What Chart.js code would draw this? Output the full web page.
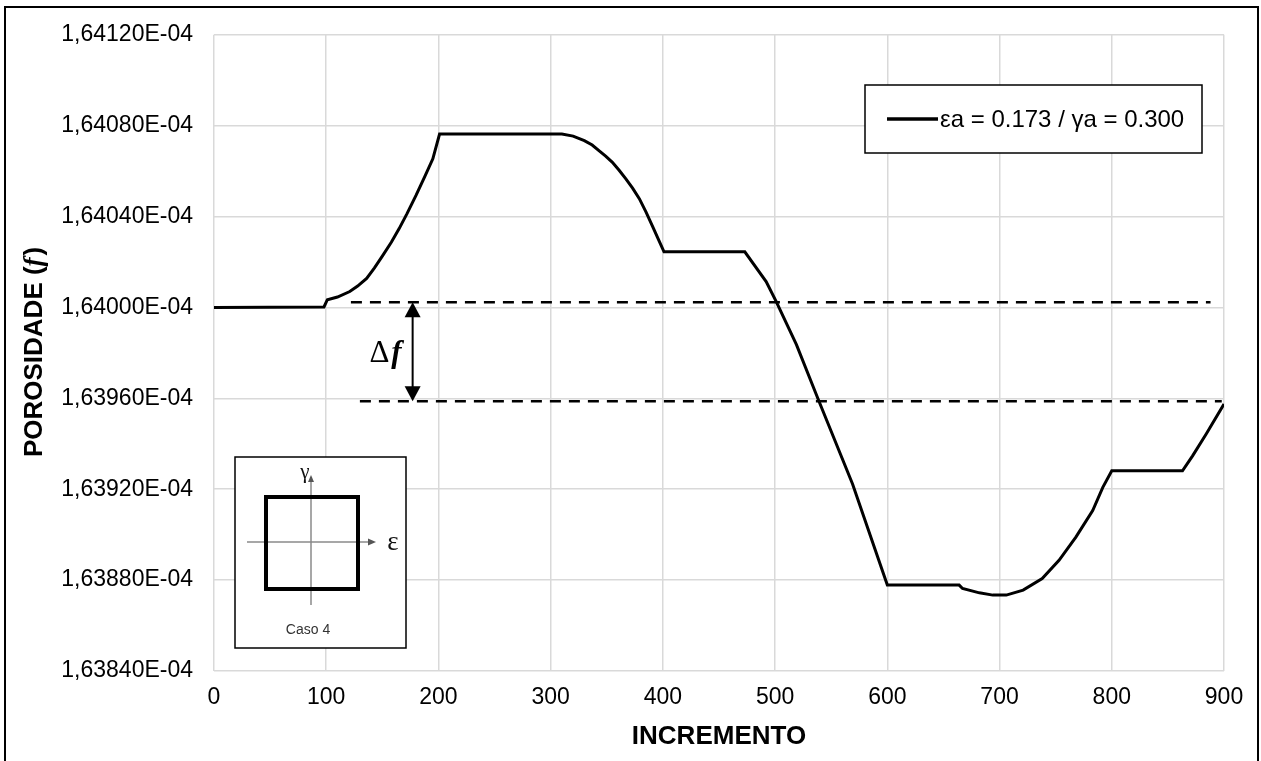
<!DOCTYPE html>
<html>
<head>
<meta charset="utf-8">
<script src="https://cdn.jsdelivr.net/npm/chart.js@4.4.1/dist/chart.umd.min.js"></script>
<style>
  html, body { margin: 0; padding: 0; background: #fff; }
  #wrap { width: 1261px; height: 761px; }
</style>
</head>
<body>
<div id="wrap"><canvas id="c" width="1261" height="761"></canvas></div>
<script>
// Porosity history along the loading increments (values in units of 1E-04)
const incremento = [0, 98, 101, 110, 121, 128, 136, 143, 150, 158, 165, 172, 180, 188, 195, 201,
  310, 320, 330, 337, 343, 349, 355, 361, 367, 373, 379, 385, 391, 396, 401,
  473, 492, 501, 519, 539, 569, 600, 664, 667, 682, 694, 706, 721, 738, 753, 768, 783, 792, 800,
  863, 872, 884, 900];
const porosidade = [1.640000, 1.640002, 1.640034, 1.640046, 1.640070, 1.640094, 1.640128, 1.640174, 1.640226, 1.640287,
  1.640347, 1.640413, 1.640493, 1.640578, 1.640654, 1.640763,
  1.640763, 1.640754, 1.640734, 1.640715, 1.640690, 1.640666, 1.640639, 1.640604, 1.640566, 1.640525,
  1.640479, 1.640420, 1.640355, 1.640300, 1.640245,
  1.640245, 1.640114, 1.640026, 1.639836, 1.639588, 1.639223, 1.638778, 1.638778, 1.638763, 1.638744, 1.638734,
  1.638734, 1.638756, 1.638807, 1.638887, 1.638989, 1.639106, 1.639208, 1.639281,
  1.639281, 1.639347, 1.639442, 1.639575];

// Axis ticks
const xTicks = [0, 100, 200, 300, 400, 500, 600, 700, 800, 900];
const yTicks = [1.63840, 1.63880, 1.63920, 1.63960, 1.64000, 1.64040, 1.64080, 1.64120];

// Reference levels bounding the porosity change (Δf)
const refSuperiorX = [122, 888];
const refSuperiorY = [1.640023, 1.640023];
const refInferiorX = [130, 898];
const refInferiorY = [1.639587, 1.639587];
const deltaSetaX = 177;

const serieLabel = 'εa = 0.173 / γa = 0.300';
const casoLabel = 'Caso 4';

const FONT = '"Liberation Sans", Arial, sans-serif';

function toPoints(xs, ys) { return xs.map((x, i) => ({ x: x, y: ys[i] })); }

function fmtY(v) { return v.toFixed(5).replace('.', ',') + 'E-04'; }

const decorations = {
  id: 'decorations',
  afterDraw(chart) {
    const ctx = chart.ctx;
    const xs = chart.scales.x, ys = chart.scales.y;
    const area = chart.chartArea;
    ctx.save();

    // outer frame
    ctx.strokeStyle = '#000';
    ctx.lineWidth = 2;
    ctx.strokeRect(5, 7, 1253, 780);

    // y axis title with italic symbol
    const parts = [
      { t: 'POROSIDADE (', f: 'bold 26px ' + FONT },
      { t: 'f', f: 'bold italic 27px "Liberation Serif", serif' },
      { t: ')', f: 'bold 26px ' + FONT }
    ];
    let total = 0;
    parts.forEach(p => { ctx.font = p.f; p.w = ctx.measureText(p.t).width; total += p.w; });
    ctx.save();
    ctx.translate(34, (area.top + area.bottom) / 2);
    ctx.rotate(-Math.PI / 2);
    ctx.fillStyle = '#000';
    ctx.textBaseline = 'middle';
    ctx.textAlign = 'left';
    let cx = -total / 2;
    parts.forEach(p => { ctx.font = p.f; ctx.fillText(p.t, cx, 1); cx += p.w + (p.t === 'f' ? 2 : 0); });
    ctx.restore();

    // legend box
    const lx = 865, ly = 85, lw = 337, lh = 68;
    ctx.fillStyle = '#fff';
    ctx.fillRect(lx, ly, lw, lh);
    ctx.strokeStyle = '#000';
    ctx.lineWidth = 1.5;
    ctx.strokeRect(lx, ly, lw, lh);
    ctx.lineWidth = 3.5;
    ctx.beginPath();
    ctx.moveTo(887, ly + lh / 2);
    ctx.lineTo(938, ly + lh / 2);
    ctx.stroke();
    ctx.fillStyle = '#000';
    ctx.font = '24px ' + FONT;
    ctx.textBaseline = 'middle';
    ctx.textAlign = 'left';
    ctx.fillText(serieLabel, 940, ly + lh / 2 + 1);

    // double-headed arrow between the reference levels
    const ax = xs.getPixelForValue(deltaSetaX);
    const ay1 = ys.getPixelForValue(refSuperiorY[0]);
    const ay2 = ys.getPixelForValue(refInferiorY[0]);
    ctx.strokeStyle = '#000';
    ctx.fillStyle = '#000';
    ctx.lineWidth = 2;
    ctx.beginPath();
    ctx.moveTo(ax, ay1 + 10);
    ctx.lineTo(ax, ay2 - 10);
    ctx.stroke();
    ctx.beginPath();
    ctx.moveTo(ax, ay1); ctx.lineTo(ax - 8, ay1 + 15); ctx.lineTo(ax + 8, ay1 + 15); ctx.closePath(); ctx.fill();
    ctx.beginPath();
    ctx.moveTo(ax, ay2); ctx.lineTo(ax - 8, ay2 - 15); ctx.lineTo(ax + 8, ay2 - 15); ctx.closePath(); ctx.fill();

    // Δf label
    const my = (ay1 + ay2) / 2;
    ctx.textBaseline = 'alphabetic';
    ctx.textAlign = 'left';
    ctx.font = '31px "Liberation Serif", serif';
    const dW = ctx.measureText('Δ').width;
    ctx.font = 'bold italic 31px "Liberation Serif", serif';
    const fW = ctx.measureText('f').width;
    let tx = ax - 11 - dW - fW - 2;
    ctx.font = '31px "Liberation Serif", serif';
    ctx.fillText('Δ', tx, my + 10);
    ctx.font = 'bold italic 31px "Liberation Serif", serif';
    ctx.fillText('f', tx + dW + 2, my + 10);

    // inset sketch of the load path
    const bx = area.left + 21, by = area.bottom - 214, bw = 171, bh = 191;
    ctx.fillStyle = '#fff';
    ctx.fillRect(bx, by, bw, bh);
    ctx.strokeStyle = '#000';
    ctx.lineWidth = 1.5;
    ctx.strokeRect(bx, by, bw, bh);
    const ox = bx + 76, oy = by + 85;
    ctx.strokeStyle = '#8a8a8a';
    ctx.fillStyle = '#555';
    ctx.lineWidth = 1.5;
    ctx.beginPath();
    ctx.moveTo(bx + 12, oy); ctx.lineTo(bx + 135, oy);
    ctx.moveTo(ox, by + 24); ctx.lineTo(ox, by + 148);
    ctx.stroke();
    ctx.beginPath();
    ctx.moveTo(bx + 141, oy); ctx.lineTo(bx + 133, oy - 3.5); ctx.lineTo(bx + 133, oy + 3.5); ctx.closePath(); ctx.fill();
    ctx.beginPath();
    ctx.moveTo(ox, by + 18); ctx.lineTo(ox - 3, by + 25); ctx.lineTo(ox + 3, by + 25); ctx.closePath(); ctx.fill();
    ctx.strokeStyle = '#000';
    ctx.lineWidth = 4;
    ctx.strokeRect(bx + 31, by + 40, 92, 92);
    ctx.fillStyle = '#111';
    ctx.font = '21px "Liberation Serif", serif';
    ctx.textAlign = 'center';
    ctx.textBaseline = 'middle';
    ctx.fillText('γ', ox - 6, by + 15);
    ctx.font = '27px "Liberation Serif", serif';
    ctx.fillText('ε', bx + 158, oy + 1);
    ctx.fillStyle = '#333';
    ctx.font = '14px ' + FONT;
    ctx.fillText(casoLabel, ox - 3, by + 173);

    ctx.restore();
  }
};

new Chart(document.getElementById('c'), {
  type: 'line',
  data: {
    datasets: [
      {
        label: serieLabel,
        data: toPoints(incremento, porosidade),
        borderColor: '#000',
        borderWidth: 3,
        pointRadius: 0,
        tension: 0,
        fill: false
      },
      {
        label: 'ref-sup',
        data: toPoints(refSuperiorX, refSuperiorY),
        borderColor: '#000',
        borderWidth: 2.5,
        borderDash: [11, 8],
        pointRadius: 0,
        fill: false
      },
      {
        label: 'ref-inf',
        data: toPoints(refInferiorX, refInferiorY),
        borderColor: '#000',
        borderWidth: 2.5,
        borderDash: [11, 8],
        pointRadius: 0,
        fill: false
      }
    ]
  },
  options: {
    responsive: false,
    animation: false,
    layout: { padding: { left: 0, right: 37, top: 32, bottom: 0 } },
    plugins: { legend: { display: false }, tooltip: { enabled: false } },
    scales: {
      x: {
        type: 'linear',
        min: 0, max: 900,
        afterBuildTicks: s => { s.ticks = xTicks.map(v => ({ value: v })); },
        afterFit: s => { s.height = 90; },
        grid: { color: '#d9d9d9', lineWidth: 1.5, drawTicks: false },
        border: { display: false },
        ticks: { color: '#000', font: { family: FONT, size: 23 }, padding: 13, maxRotation: 0 },
        title: { display: true, text: 'INCREMENTO', color: '#000', font: { family: FONT, size: 26, weight: 'bold' }, padding: { top: 0, bottom: 9 } }
      },
      y: {
        type: 'linear',
        min: 1.63840, max: 1.64120,
        afterBuildTicks: s => { s.ticks = yTicks.map(v => ({ value: v })); },
        afterFit: s => { s.width = 214; },
        grid: { color: '#d9d9d9', lineWidth: 1.5, drawTicks: false },
        border: { display: false },
        ticks: { color: '#000', font: { family: FONT, size: 23 }, padding: 21, callback: v => fmtY(v) }
      }
    }
  },
  plugins: [decorations]
});
</script>
</body>
</html>
